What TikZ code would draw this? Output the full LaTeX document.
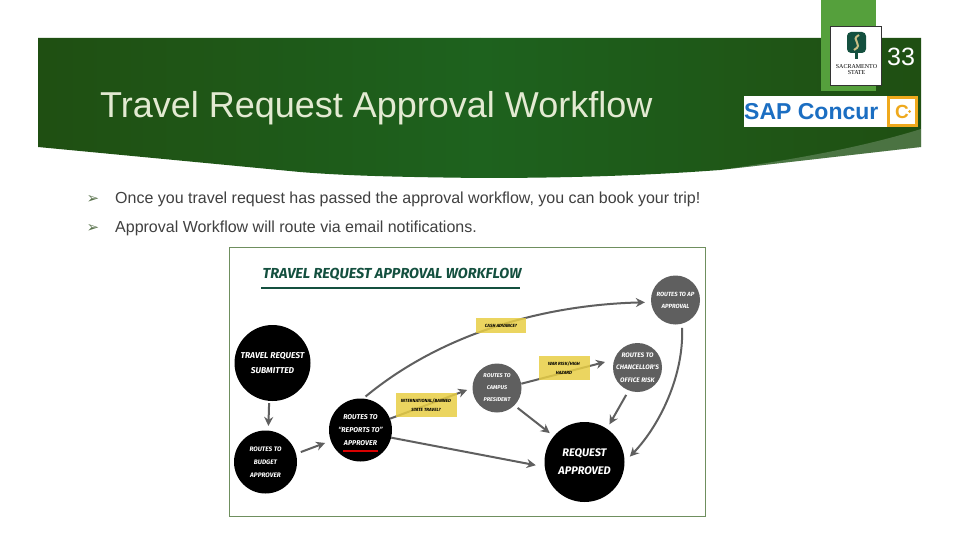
\documentclass[tikz,border=0pt]{standalone}
\usepackage{fontspec}
\setmainfont{Liberation Sans}
\newfontfamily\handfont{Fira Sans}
\newfontfamily\markfont{DejaVu Sans}
\newfontfamily\logofont{Liberation Serif}
\usepackage{xcolor}
\usetikzlibrary{shapes,arrows.meta,positioning,calc}
\definecolor{bannerdark}{HTML}{1F4F12}
\definecolor{bannermid}{HTML}{1E621E}
\definecolor{tabgreen}{HTML}{55A03C}
\definecolor{titletext}{HTML}{E3EAD2}
\definecolor{bodytext}{HTML}{404040}
\definecolor{framegreen}{HTML}{6F8F5F}
\definecolor{headgreen}{HTML}{14503F}
\definecolor{notefill}{HTML}{E8CE45}
\definecolor{flowgrey}{HTML}{5F5F5F}
\definecolor{sapblue}{HTML}{1B6EC2}
\definecolor{concurgold}{HTML}{EFA91D}
\definecolor{logotan}{HTML}{C9BE85}
\tikzstyle{hand} = [font=\handfont\itshape\bfseries, align=center, inner sep=0pt]
\tikzstyle{blackstep} = [circle, fill=black, text=white, hand, inner sep=-12pt]
\tikzstyle{greystep} = [circle, fill=flowgrey, text=white, hand, inner sep=-12pt]
\tikzstyle{note} = [rectangle, fill=notefill, fill opacity=.85, text opacity=1, text=black, hand]
\tikzstyle{flow} = [flowgrey, line width=2pt, -{Stealth[length=9pt,width=9pt]}]
\tikzstyle{bullet} = [anchor=west, inner sep=0pt, text=bodytext, font=\fontsize{16}{18}\selectfont]
\tikzstyle{bulletmark} = [text=framegreen!80!black, inner sep=0pt, font=\markfont\fontsize{15}{15}\selectfont]
\begin{document}
\begin{tikzpicture}[x=1pt, y=-1pt]
    \useasboundingbox (0,0) rectangle (960,540);
    \fill[white] (0,0) rectangle (960,540);
    % banner
    \shade[left color=bannerdark, right color=bannermid]
        (38,38) -- (480,38) -- (480,178) .. controls (400,177) and (350,176) .. (300,172) -- (38,147) -- cycle;
    \shade[left color=bannermid, right color=bannerdark]
        (480,38) -- (921,38) -- (921,147) -- (720,170) .. controls (640,176) and (560,178) .. (480,178) -- cycle;
    \fill[white, opacity=.2] (921,129) .. controls (860,148) and (790,160) .. (720,170) -- (921,147) -- cycle;
    \fill[tabgreen] (821,0) rectangle (876,91);
    % header
    \node[anchor=west, inner sep=0pt, text=titletext, font=\fontsize{36}{38}\selectfont] (title) at (100,108) {Travel Request Approval Workflow};
    \node[text=white, font=\fontsize{25}{28}\selectfont, inner sep=0pt] (pageno) at (901,57) {33};
    % logos
    \node[draw=black!80, fill=white, minimum width=51pt, minimum height=59pt, inner sep=0pt] (sacbox) at (856,55.5) {};
    \fill[headgreen, rounded corners=4pt] (847,32) rectangle (866,53);
    \draw[logotan, line width=2pt] (859,35) .. controls (849,40) and (865,44) .. (854,50);
    \fill[headgreen] (855,53) rectangle (858,59);
    \node[font=\logofont\fontsize{6}{6}\selectfont, align=center, inner sep=0pt] (sacname) at (856.5,69.5) {SACRAMENTO\\STATE};
    \fill[white] (744,96) rectangle (887,127);
    \node[text=sapblue, font=\bfseries\fontsize{23}{25}\selectfont, anchor=west, inner sep=0pt] (sap) at (744,111.5) {SAP Concur};
    \node[draw=concurgold, line width=3pt, fill=white, text=concurgold, minimum size=28pt, inner sep=0pt, font=\bfseries\fontsize{19}{19}\selectfont] (concur) at (902,111.5) {C\hspace{6pt}};
    \fill[concurgold] (909.5,111.5) circle (1.5pt);
    % bullets
    \node[bullet] (first) at (115,199) {Once you travel request has passed the approval workflow, you can book your trip!};
    \node[bullet] (second) at (115,228) {Approval Workflow will route via email notifications.};
    \node[bulletmark] (markone) at (93,199.5) {➢};
    \node[bulletmark] (marktwo) at (93,228.5) {➢};
    % infographic
    \node[draw=framegreen, fill=white, minimum width=476pt, minimum height=269pt, inner sep=0pt, anchor=north west] (frame) at (229,246.5) {};
    \node[text=headgreen, hand, font=\handfont\itshape\bfseries\fontsize{14.5}{17}\selectfont] (head) at (392,274.5) {TRAVEL REQUEST APPROVAL WORKFLOW};
    \draw[headgreen, line width=1.3pt] (261,288) -- (520,288);
    \node[blackstep, minimum size=76pt, font=\handfont\itshape\bfseries\fontsize{8.5}{15}\selectfont] (submitted) at (272.5,363) {TRAVEL REQUEST\\SUBMITTED};
    \node[blackstep, minimum size=63pt, font=\handfont\itshape\bfseries\fontsize{6.5}{13}\selectfont] (budget) at (265.5,462) {ROUTES TO\\BUDGET\\APPROVER};
    \node[blackstep, minimum size=63pt, font=\handfont\itshape\bfseries\fontsize{7}{13}\selectfont] (reports) at (360.5,430) {ROUTES TO\\“REPORTS TO”\\APPROVER};
    \draw[red!85!black, line width=1.2pt] (343,451) -- (378,451);
    \node[blackstep, minimum size=80pt, font=\handfont\itshape\bfseries\fontsize{11}{18}\selectfont] (approved) at (584.5,462) {REQUEST\\APPROVED};
    \node[greystep, minimum size=49pt, font=\handfont\itshape\bfseries\fontsize{5.5}{12}\selectfont] (campus) at (497,388) {ROUTES TO\\CAMPUS\\PRESIDENT};
    \node[greystep, minimum size=49pt, font=\handfont\itshape\bfseries\fontsize{6.5}{12.5}\selectfont] (risk) at (637.5,367.5) {ROUTES TO\\CHANCELLOR'S\\OFFICE RISK};
    \node[greystep, minimum size=49pt, font=\handfont\itshape\bfseries\fontsize{6}{12}\selectfont] (ap) at (675.5,300) {ROUTES TO AP\\APPROVAL};
    \coordinate (warend) at (605,362);
    % connectors
    \draw[flow, shorten <=2pt, shorten >=4.5pt] (submitted.-95) -- (budget.85);
    \draw[flow, shorten <=5pt, shorten >=6pt] (budget.15) -- (reports.200);
    \draw[flow, shorten >=9pt] (reports.-14) -- (approved.187);
    \draw[flow, shorten >=5.5pt] (reports.21) -- (campus.west);
    \draw[flow, shorten <=3pt, shorten >=6pt] (reports.85) .. controls (440,335) and (540,305) .. (ap.185);
    \draw[flow, shorten <=4pt, shorten >=5pt] (campus.-45) -- (approved.140);
    \draw[flow] (campus.10) -- (warend);
    \draw[flow, shorten <=5pt, shorten >=5pt] (risk.-111) -- (approved.56);
    \draw[flow, shorten <=4pt, shorten >=7.5pt] (ap.-75) .. controls (684,375) and (660,425) .. (approved.east);
    % yellow notes
    \node[note, minimum width=50pt, minimum height=15pt, font=\handfont\itshape\bfseries\fontsize{4.5}{5}\selectfont] (advance) at (501,325.5) {CASH ADVANCE?};
    \node[note, minimum width=51pt, minimum height=24pt, font=\handfont\itshape\bfseries\fontsize{4.5}{9}\selectfont] (war) at (564,368) {WAR RISK/HIGH\\HAZARD};
    \node[note, minimum width=61pt, minimum height=24pt, font=\handfont\itshape\bfseries\fontsize{4.5}{9}\selectfont] (intl) at (426,405) {INTERNATIONAL/BANNED\\STATE TRAVEL?};
\end{tikzpicture}
\end{document}
